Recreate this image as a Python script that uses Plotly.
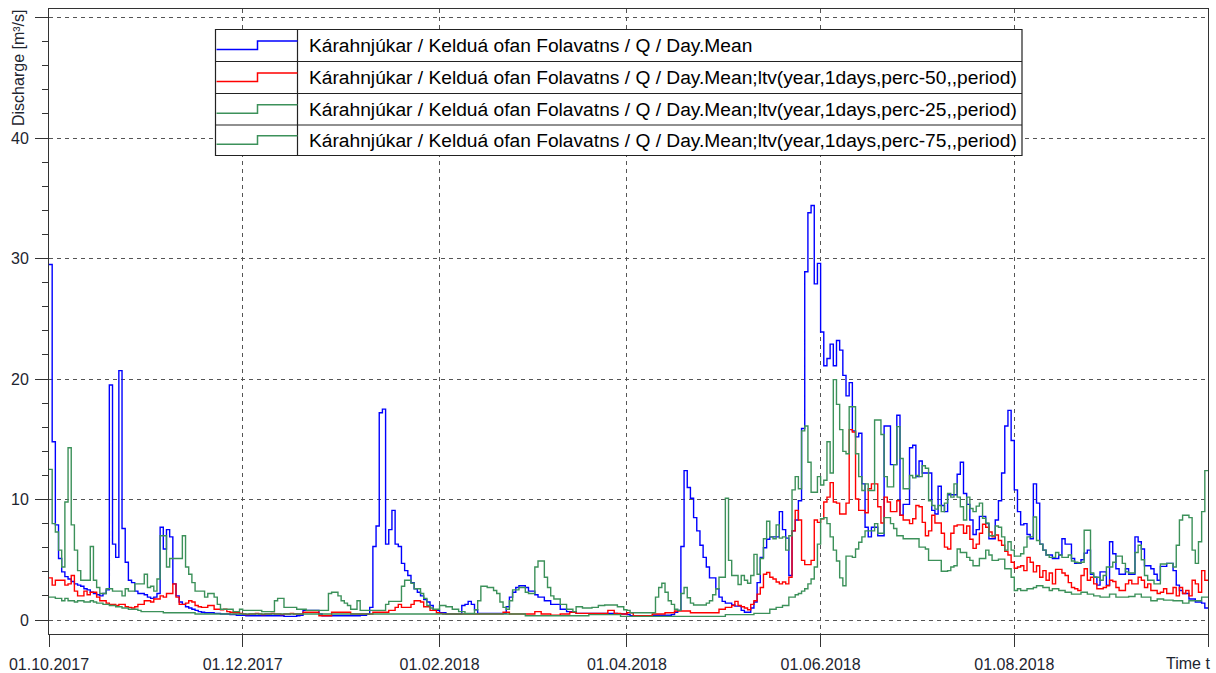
import plotly.graph_objects as go
import pandas as pd

# ---------------- data (daily means, m3/s), day 0 = 01.10.2017 ----------------
start_date = "2017-10-01"
end_date = "2018-10-01"

day_mean = [
    29.5, 14.8, 7.9, 5.1, 4.0, 3.6, 3.4, 3.2, 3.0, 2.9,
    2.8, 2.6, 2.5, 2.3, 2.2, 2.1, 2.0, 2.2, 2.5, 19.5,
    6.3, 5.2, 20.7, 7.6, 4.8, 3.3, 3.1, 2.4, 2.2, 2.2,
    2.1, 1.9, 1.8, 1.9, 2.2, 7.7, 5.9, 7.5, 6.9, 3.0,
    2.0, 1.5, 1.3, 1.1, 1.0, 0.9, 0.8, 0.7, 0.65, 0.6,
    0.6, 0.6, 0.55, 0.55, 0.5, 0.5, 0.5, 0.45, 0.45, 0.4,
    0.4, 0.4, 0.35, 0.35, 0.35, 0.35, 0.35, 0.35, 0.35, 0.35,
    0.35, 0.35, 0.35, 0.35, 0.3, 0.3, 0.3, 0.3, 0.35, 0.4,
    0.8, 0.8, 0.8, 0.8, 0.8, 0.5, 0.35, 0.35, 0.35, 0.35,
    0.35, 0.35, 0.35, 0.35, 0.35, 0.35, 0.35, 0.35, 0.4, 0.4,
    0.5, 1.05, 6.1, 7.8, 17.2, 17.5, 6.3, 7.5, 9.1, 6.3,
    6.1, 4.7, 4.1, 3.7, 3.1, 2.6, 2.3, 2.0, 1.7, 1.5,
    1.2, 0.8, 0.8, 0.6, 0.6, 0.5, 0.5, 0.5, 0.5, 0.5,
    1.2, 1.3, 1.55, 1.3, 0.85, 0.55, 0.55, 0.55, 0.55, 0.55,
    0.55, 0.55, 0.55, 0.55, 1.1, 1.9, 2.3, 2.7, 2.85, 2.85,
    2.7, 2.4, 2.4, 2.1, 1.9, 1.9, 1.6, 1.6, 1.3, 1.3,
    1.3, 0.9, 0.9, 0.7, 0.7, 0.7, 0.55, 0.55, 0.55, 0.55,
    0.55, 0.55, 0.55, 0.55, 0.55, 0.55, 0.55, 0.55, 0.55, 0.5,
    0.5, 0.5, 0.45, 0.35, 0.35, 0.35, 0.35, 0.35, 0.35, 0.35,
    0.4, 0.4, 0.4, 0.4, 0.4, 0.4, 0.45, 0.65, 0.8, 6.1,
    12.4, 11.0, 10.1, 8.5, 7.4, 6.2, 5.2, 4.4, 3.5, 3.5,
    2.6, 1.9, 1.55, 1.4, 1.4, 1.25, 1.15, 1.15, 0.8, 0.65,
    0.65, 1.0, 1.5, 3.1, 5.2, 6.0, 6.7, 6.9, 6.9, 6.9,
    9.0, 7.5, 6.8, 3.7, 7.4, 8.3, 9.9, 15.9, 28.9, 33.8,
    34.4, 27.9, 29.6, 23.9, 21.1, 21.7, 22.9, 21.1, 23.2, 22.4,
    20.3, 18.6, 19.7, 15.7, 15.2, 15.5, 11.3, 7.7, 6.9, 7.7,
    7.7, 7.0, 7.0, 16.1, 16.1, 12.9, 12.9, 17.0, 8.7, 9.6,
    9.6, 14.3, 14.5, 11.9, 13.2, 12.2, 12.2, 12.2, 9.1, 8.8,
    11.1, 9.5, 9.0, 10.4, 10.4, 10.4, 12.1, 13.1, 10.5, 9.6,
    8.3, 7.1, 7.5, 8.6, 8.6, 8.0, 6.75, 6.75, 8.3, 9.9,
    12.2, 16.1, 17.4, 14.9, 10.8, 9.0, 7.9, 8.0, 7.1, 6.75,
    11.3, 9.7, 6.3, 5.8, 5.4, 5.4, 5.1, 5.1, 5.4, 6.75,
    6.3, 6.3, 5.1, 4.7, 4.7, 5.0, 5.55, 5.8, 3.8, 3.55,
    2.9, 4.0, 4.0, 2.9, 6.5, 5.5, 4.25, 3.8, 3.8, 4.25,
    3.8, 3.8, 6.9, 6.5, 5.9, 4.5, 4.5, 4.25, 3.8, 3.3,
    4.45, 4.45, 4.7, 4.7, 4.1, 2.9, 2.45, 2.2, 2.2, 1.75,
    1.75, 1.5, 1.5, 1.4, 1.0,
]

perc_50 = [
    3.5, 2.9, 3.3, 3.3, 3.3, 2.9, 3.0, 3.7, 2.4, 2.0,
    2.0, 2.4, 2.1, 2.3, 2.3, 1.9, 1.6, 1.6, 1.4, 1.3,
    1.3, 1.2, 1.3, 1.3, 1.1, 1.05, 1.0, 1.1, 1.3, 1.3,
    1.6, 1.6, 1.5, 1.75, 1.75, 2.0, 1.9, 2.2, 2.2, 3.0,
    1.9, 1.3, 1.3, 1.4, 1.6, 1.5, 1.2, 1.1, 1.05, 1.05,
    1.2, 1.2, 0.9, 0.9, 0.85, 0.9, 0.7, 0.65, 0.6, 0.6,
    0.55, 0.5, 0.45, 0.5, 0.5, 0.55, 0.5, 0.45, 0.5, 0.5,
    0.55, 0.5, 0.5, 0.45, 0.5, 0.5, 0.55, 0.5, 0.5, 0.5,
    0.65, 0.65, 0.65, 0.65, 0.65, 0.35, 0.35, 0.35, 0.35, 0.65,
    0.65, 0.65, 0.65, 0.65, 0.65, 0.5, 0.5, 0.5, 0.5, 0.5,
    0.5, 0.5, 0.65, 0.65, 0.65, 0.65, 0.65, 0.8, 0.8, 1.05,
    1.3, 1.05, 1.05, 1.05, 1.3, 1.6, 1.6, 1.5, 1.1, 1.1,
    0.8, 0.8, 0.6, 0.55, 0.5, 0.5, 0.5, 0.5, 0.5, 0.5,
    0.5, 0.5, 0.5, 0.5, 0.5, 0.5, 0.5, 0.5, 0.5, 0.5,
    0.5, 0.5, 0.5, 0.65, 0.65, 0.5, 0.5, 0.5, 0.5, 0.5,
    0.5, 0.5, 0.5, 0.7, 0.7, 0.5, 0.5, 0.5, 0.4, 0.4,
    0.4, 0.5, 0.5, 0.5, 0.65, 0.65, 0.55, 0.55, 0.55, 0.55,
    0.55, 0.55, 0.55, 0.55, 0.55, 0.55, 0.8, 0.8, 0.55, 0.55,
    0.5, 0.5, 0.6, 0.6, 0.35, 0.35, 0.35, 0.35, 0.35, 0.35,
    0.5, 0.5, 0.5, 0.5, 0.6, 0.6, 0.6, 0.75, 0.75, 0.75,
    0.75, 0.75, 0.6, 0.6, 0.6, 0.6, 0.6, 0.6, 0.6, 0.6,
    0.6, 0.9, 0.9, 1.05, 1.05, 1.2, 1.55, 1.2, 1.1, 1.0,
    0.85, 1.3, 1.6, 2.15, 2.7, 3.8, 3.95, 3.55, 3.4, 3.15,
    3.0, 3.15, 3.0, 3.55, 7.4, 9.1, 8.3, 4.95, 4.6, 4.6,
    4.95, 8.3, 8.1, 8.4, 9.8, 10.2, 11.4, 9.8, 9.7, 8.8,
    8.8, 9.7, 15.8, 15.6, 10.05, 9.1, 9.1, 8.9, 10.9, 11.3,
    11.3, 9.4, 8.05, 10.2, 9.8, 9.0, 9.0, 9.9, 8.7, 8.3,
    8.3, 8.0, 8.4, 9.5, 9.4, 8.1, 7.0, 7.4, 8.7, 8.05,
    8.05, 7.2, 6.05, 5.9, 7.2, 7.8, 7.9, 7.9, 7.2, 7.8,
    6.7, 5.95, 6.3, 7.2, 7.95, 7.7, 7.3, 6.9, 7.05, 6.6,
    6.2, 5.7, 5.4, 4.8, 4.3, 4.4, 4.5, 4.1, 5.2, 4.8,
    4.0, 4.5, 3.55, 4.1, 3.3, 3.9, 3.0, 4.2, 4.2, 3.9,
    3.7, 3.1, 2.7, 2.6, 2.45, 3.7, 4.25, 3.3, 3.55, 3.0,
    2.6, 2.6, 2.7, 2.85, 3.3, 3.2, 2.7, 2.45, 2.45, 3.0,
    3.3, 3.0, 3.0, 3.55, 3.3, 2.7, 3.0, 2.45, 2.45, 2.2,
    2.3, 2.6, 2.2, 2.2, 2.7, 2.0, 2.7, 2.2, 2.45, 2.0,
    3.3, 3.0, 2.3, 4.1, 3.3,
]

perc_25 = (
    [1.9, 1.9, 1.8, 1.8, 1.6, 1.8, 1.6, 1.6, 1.5, 1.6,
     1.6, 1.5, 1.5, 1.6, 1.5, 1.4, 1.4, 1.3, 1.3, 1.2,
     1.2, 1.1, 1.1, 1.0, 1.0, 0.9, 0.9, 0.9, 0.8, 0.7,
     0.7, 0.7, 0.7, 0.7, 0.7, 0.7, 0.6, 0.6, 0.6, 0.6,
     0.6, 0.6, 0.6, 0.6, 0.6, 0.6]
    + [0.5] * 104            # days 46-149
    + [0.35] * 20            # days 150-169
    + [0.45] * 10            # days 170-179
    + [0.3] * 33             # days 180-212
    + [0.45] * 9             # days 213-221
    + [0.55] * 5             # days 222-226
    + [0.9, 0.9, 1.05, 1.05, 1.2, 1.2,
       1.9, 1.9, 2.1, 2.2, 2.4, 2.6, 3.0, 3.4, 4.4, 6.3,
       8.4, 8.5, 8.0, 6.9, 5.8, 4.9, 3.5, 2.85, 5.3, 5.3,
       5.2, 5.9, 6.45, 6.9, 7.4, 7.4, 7.4, 8.0,
       7.2, 7.2, 8.5, 8.5, 8.0, 7.6, 7.0, 7.0, 6.75, 6.75,
       6.75, 6.75, 6.75, 6.05, 6.05, 5.9, 4.95, 4.95, 4.95, 4.95,
       4.05, 4.05, 4.1, 4.4, 4.5, 5.9, 5.6, 5.6, 5.2, 4.95,
       4.5, 4.5, 5.1, 5.1, 5.8, 5.4, 4.95, 4.95, 5.05, 5.05,
       4.25,
       4.25, 3.55, 2.45, 2.6, 2.45, 2.45, 2.6, 2.6, 2.7, 2.85,
       2.85, 2.7, 2.7, 2.45, 2.6, 2.6, 2.45, 2.45, 2.3, 2.3,
       2.15, 2.15, 2.15, 2.3, 2.3, 2.15, 2.15, 2.0, 2.0, 1.9,
       1.9, 1.9, 2.15, 2.15, 1.9, 1.9, 1.9, 1.9, 1.95, 1.95,
       2.15, 2.15, 1.9, 1.9, 1.9, 1.6, 1.6, 1.75, 1.75, 1.65,
       1.65, 1.65, 1.6, 1.6, 1.6, 1.4, 1.4, 1.6, 1.6, 1.6,
       1.6, 1.9, 1.9]
)

perc_75 = [
    12.5, 8.0, 7.3, 5.8, 4.4, 9.8, 14.3, 7.9, 5.8, 4.1,
    3.3, 3.3, 3.3, 6.1, 3.3, 2.7, 2.2, 2.2, 2.6, 2.6,
    2.4, 2.4, 2.4, 2.0, 2.6, 2.4, 2.4, 3.0, 3.0, 3.0,
    3.8, 2.7, 2.8, 2.4, 3.4, 7.0, 7.0, 4.4, 5.1, 5.1,
    5.1, 5.1, 7.0, 4.4, 3.8, 3.1, 2.4, 2.4, 2.4, 1.9,
    2.2, 2.2, 1.9, 1.3, 0.9, 0.9, 0.9, 0.9, 0.7, 0.7,
    0.9, 0.8, 0.8, 0.8, 0.8, 0.8, 0.8, 0.7, 0.7, 0.7,
    0.7, 1.6, 1.8, 1.8, 1.05, 1.05, 1.05, 1.05, 0.9, 0.9,
    0.9, 0.8, 0.8, 0.8, 0.8, 0.8, 0.8, 0.8, 2.2, 2.3,
    2.3, 2.0, 1.6, 1.4, 1.2, 0.9, 0.9, 1.6, 0.8, 0.8,
    0.8, 0.8, 0.8, 0.8, 0.8, 0.8, 1.3, 1.55, 1.55, 1.55,
    1.55, 2.8, 3.3, 3.3, 3.05, 2.6, 2.6, 2.2, 1.8, 1.2,
    1.0, 0.9, 0.9, 1.2, 1.2, 1.1, 1.1, 0.9, 0.9, 0.7,
    0.7, 0.55, 0.55, 0.55, 0.85, 1.6, 2.8, 2.8, 2.7, 2.7,
    2.45, 2.2, 1.5, 1.05, 0.9, 1.6, 2.5, 2.5, 2.7, 2.7,
    2.3, 2.2, 2.2, 4.4, 4.9, 4.9, 3.55, 2.7, 2.0, 1.75,
    1.75, 1.3, 1.3, 0.9, 0.9, 0.7, 1.1, 1.1, 1.0, 1.0,
    1.0, 1.05, 1.05, 1.2, 1.2, 1.25, 1.25, 1.25, 1.25, 1.1,
    1.1, 0.85, 0.8, 0.6, 0.6, 0.6, 0.6, 0.6, 0.6, 0.6,
    0.6, 1.9, 2.7, 3.05, 2.3, 1.6, 1.3, 0.9, 0.8, 2.2,
    2.7, 1.85, 1.4, 1.25, 1.25, 1.25, 1.25, 1.4, 1.6, 2.1,
    2.6, 3.55, 3.55, 10.1, 4.95, 3.7, 3.7, 2.95, 3.7, 3.3,
    3.05, 3.7, 5.45, 3.8, 5.1, 6.75, 8.2, 6.9, 6.75, 7.9,
    6.8, 6.9, 5.8, 7.0, 10.8, 11.9, 10.9, 15.7, 16.1, 13.1,
    10.6, 10.6, 11.9, 11.2, 11.6, 14.8, 12.2, 19.95, 17.9, 15.8,
    14.0, 13.8, 17.7, 17.7, 13.8, 11.9, 10.75, 11.3, 10.75, 10.75,
    16.6, 16.6, 15.4, 11.9, 11.05, 11.05, 12.9, 16.05, 13.4, 10.9,
    10.9, 12.0, 11.8, 12.0, 11.9, 12.8, 12.6, 9.9, 9.5, 9.2,
    9.5, 9.0, 9.7, 10.5, 10.2, 11.3, 10.2, 9.4, 8.3, 10.2,
    9.25, 9.0, 9.45, 9.7, 8.45, 8.05, 7.0, 7.0, 7.8, 7.7,
    6.9, 5.8, 6.5, 5.8, 5.3, 5.3, 5.5, 6.05, 6.9, 6.9,
    8.55, 6.6, 6.3, 5.8, 5.4, 5.2, 5.2, 5.6, 5.4, 5.2,
    5.2, 5.4, 4.9, 4.8, 4.75, 4.8, 7.45, 7.45, 3.9, 3.55,
    3.55, 3.3, 3.7, 4.4, 4.4, 4.8, 5.3, 5.3, 4.7, 4.0,
    3.9, 3.9, 5.6, 6.2, 5.0, 3.7, 3.3, 3.3, 3.0, 3.0,
    4.65, 4.65, 4.7, 4.7, 4.4, 6.2, 8.3, 8.7, 8.7, 8.5,
    5.8, 4.7, 6.5, 9.0, 12.4,
]

for _s in (day_mean, perc_50, perc_25, perc_75):
    assert len(_s) == 365, len(_s)

tick_dates = ["2017-10-01", "2017-12-01", "2018-02-01", "2018-04-01",
              "2018-06-01", "2018-08-01", "2018-10-01"]
tick_text = ["01.10.2017", "01.12.2017", "01.02.2018", "01.04.2018",
             "01.06.2018", "01.08.2018", ""]
y_ticks = [0, 10, 20, 30, 40, 50]
y_ticktext = ["0", "10", "20", "30", "40", ""]

base = "Kárahnjúkar / Kelduá ofan Folavatns / Q / Day.Mean"
series = [
    (base, day_mean, "#0000ff"),
    (base + ";ltv(year,1days,perc-50,,period)", perc_50, "#ff0000"),
    (base + ";ltv(year,1days,perc-25,,period)", perc_25, "#3c915a"),
    (base + ";ltv(year,1days,perc-75,,period)", perc_75, "#3c915a"),
]

# ---------------- figure ----------------
W, H = 1216, 673
L, R, T, B = 49, 8, 9, 39
PW, PH = W - L - R, H - T - B
FONT = "Liberation Sans, Arial, sans-serif"

def px_x(px):
    return (px - L) / PW

def px_y(py):
    return (H - B - py) / PH

dates = list(pd.date_range(start_date, periods=365, freq="D")) + [pd.Timestamp(end_date)]

fig = go.Figure()
for name, vals, col in series:
    fig.add_trace(go.Scatter(
        x=dates, y=list(vals) + [vals[-1]], mode="lines", name=name,
        line=dict(color=col, width=1.4, shape="hv"), showlegend=False,
        hoverinfo="skip"))

grid = dict(showgrid=True, gridcolor="#555555", gridwidth=1, griddash="4px,4px")

fig.update_layout(
    width=W, height=H,
    margin=dict(l=L, r=R, t=T, b=B, pad=0, autoexpand=False),
    paper_bgcolor="white", plot_bgcolor="white",
    font=dict(family=FONT, size=16, color="#1e2530"),
    xaxis=dict(type="date", range=[start_date, end_date], automargin=False,
               tickmode="array", tickvals=tick_dates, ticktext=tick_text,
               ticks="outside", ticklen=12, tickcolor="#333333", tickwidth=1,
               ticklabelstandoff=4,
               showline=True, linecolor="#333333", linewidth=1, mirror=True,
               zeroline=False, tickfont=dict(size=16), **grid),
    yaxis=dict(range=[-1.16, 50.71], tickmode="array", tickvals=y_ticks,
               automargin=False,
               ticktext=y_ticktext, ticks="outside", ticklen=13,
               tickcolor="#333333", tickwidth=1, ticklabelstandoff=3,
               minor=dict(dtick=2, tick0=0, ticks="outside", ticklen=6,
                          tickcolor="#333333", showgrid=False),
               showline=True, linecolor="#333333", linewidth=1, mirror=True,
               zeroline=False, tickfont=dict(size=16), **grid),
)

anns = [
    dict(text="Discharge [m³/s]", xref="paper", yref="paper",
         x=px_x(18), y=px_y(68), xanchor="center", yanchor="middle",
         textangle=-90, showarrow=False, font=dict(size=16)),
    dict(text="Time t", xref="paper", yref="paper", x=px_x(1212),
         y=px_y(663), xanchor="right", yanchor="middle",
         showarrow=False, font=dict(size=16)),
]

# custom table-style legend
lx0, lx1, lsep = 215.5, 1022, 297.5
row_edges = [29.5, 61.5, 93.5, 125, 155.5]
shapes = [dict(type="rect", xref="paper", yref="paper",
               x0=px_x(lx0), x1=px_x(lx1), y0=px_y(row_edges[-1]), y1=px_y(row_edges[0]),
               line=dict(color="#222222", width=1.2), fillcolor="white", layer="above")]
for e in row_edges[1:-1]:
    shapes.append(dict(type="line", xref="paper", yref="paper",
                       x0=px_x(lx0), x1=px_x(lx1), y0=px_y(e), y1=px_y(e),
                       line=dict(color="#222222", width=1.2), layer="above"))
shapes.append(dict(type="line", xref="paper", yref="paper",
                   x0=px_x(lsep), x1=px_x(lsep), y0=px_y(row_edges[-1]), y1=px_y(row_edges[0]),
                   line=dict(color="#222222", width=1.2), layer="above"))
for i, (name, vals, col) in enumerate(series):
    top, bot = row_edges[i], row_edges[i + 1]
    c = (top + bot) / 2
    lo, hi = c + 4, c - 4.5
    path = (f"M {px_x(lx0 + 1)},{px_y(lo)} L {px_x(257.5)},{px_y(lo)} "
            f"L {px_x(257.5)},{px_y(hi)} L {px_x(lsep)},{px_y(hi)}")
    shapes.append(dict(type="path", xref="paper", yref="paper", path=path,
                       line=dict(color=col, width=1.5), layer="above"))
    anns.append(dict(text=name, xref="paper", yref="paper", x=px_x(307),
                     y=px_y(c), xanchor="left", yanchor="middle", showarrow=False,
                     font=dict(size=19.2, color="#000000")))

fig.update_layout(shapes=shapes, annotations=anns)
fig.write_html("out.html",
               config={"displayModeBar": False},
               post_script="document.body.style.margin='0px';"
                           "document.body.style.overflow='hidden';")
